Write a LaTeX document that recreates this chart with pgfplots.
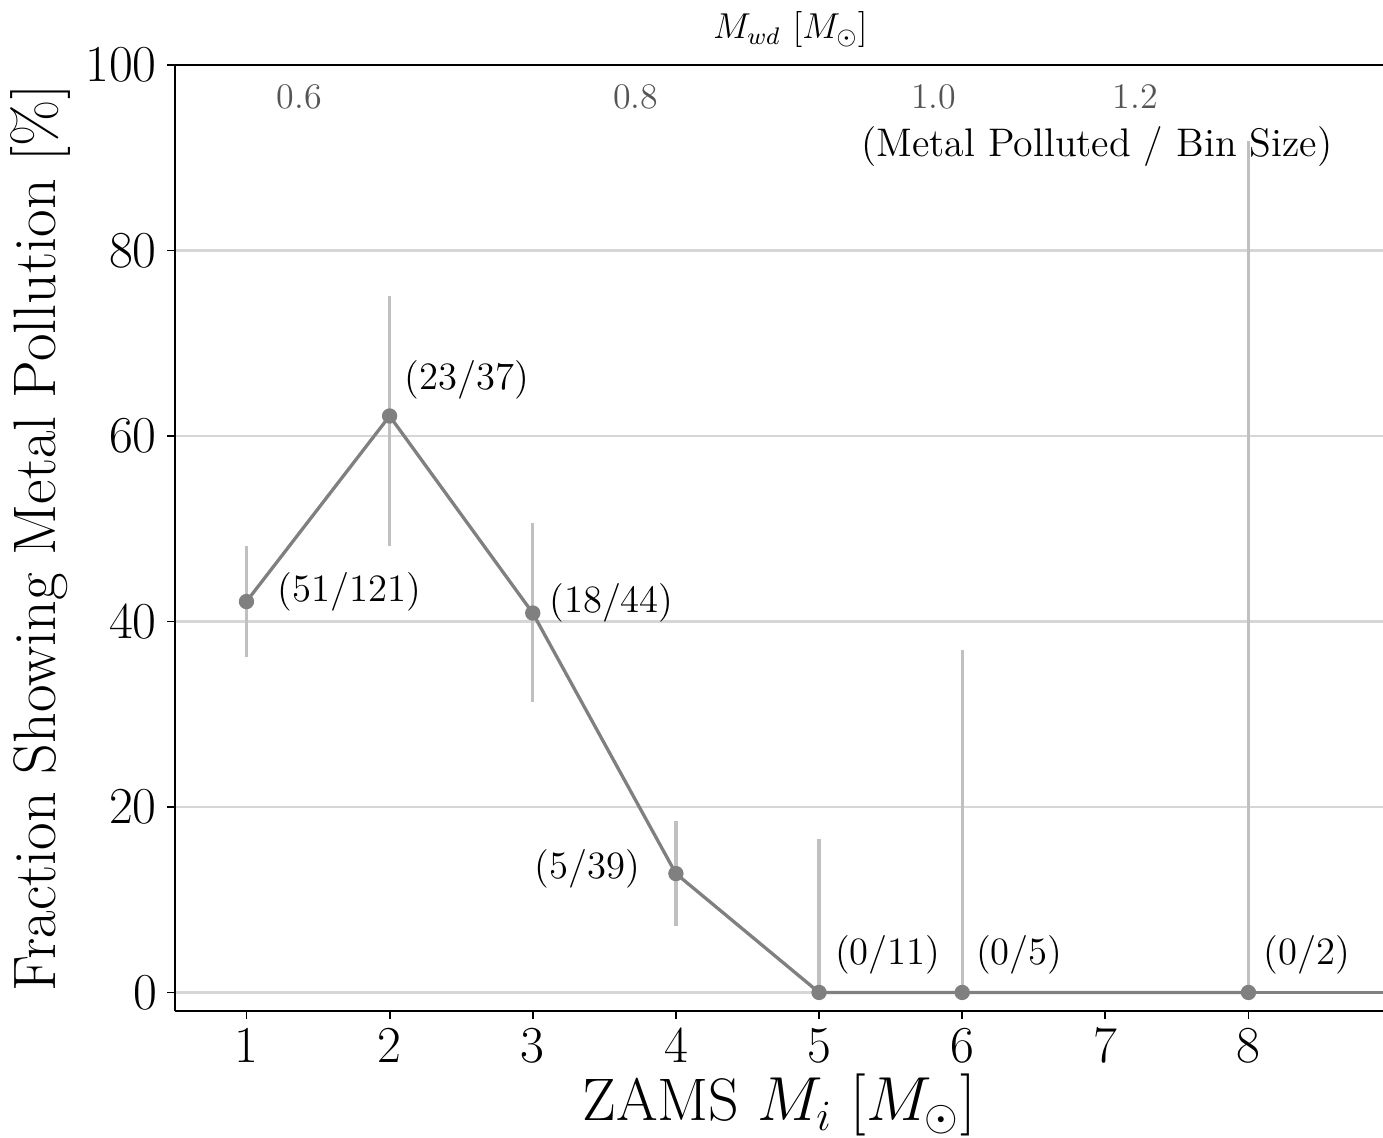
\documentclass[border=0pt]{standalone}
\usepackage{pgfplots}
\pgfplotsset{compat=1.18}
\usetikzlibrary{calc}
\definecolor{linegray}{HTML}{808080}
\definecolor{errgray}{HTML}{C0C0C0}
\definecolor{gridgray}{HTML}{D6D6D6}
\definecolor{toplab}{HTML}{555555}
\begin{document}
\begin{tikzpicture}
\begin{axis}[
  scale only axis, width=402.7pt, height=315.3pt,
  xmin=0.5, xmax=8.94, ymin=-2, ymax=100,
  axis x line*=bottom, axis y line*=left,
  axis line style={-, line width=0.7pt},
  xtick={1,...,8}, ytick={0,20,...,100},
  tick align=outside, major tick length=2.5pt,
  tick style={black, line width=0.6pt},
  ymajorgrids, grid style={gridgray, line width=0.8pt},
  tick label style={font=\LARGE},
  xlabel={ZAMS $M_i$ $[M_\odot]$},
  ylabel={Fraction Showing Metal Pollution [\%]},
  label style={font=\fontsize{20}{24}\selectfont},
  xlabel style={yshift=3pt},
  ylabel style={yshift=-2pt},
  clip mode=individual,
]
% error bars first, under the line
\addplot[draw=none, mark=none, forget plot,
  error bars/.cd, y dir=both, y explicit, error mark=none,
  error bar style={draw=errgray, line width=1.1pt}]
coordinates {
  (1,42.15) += (0,5.95) -= (0,5.95)
  (2,62.16) += (0,12.9) -= (0,14.0)
  (3,40.91) += (0,9.7) -= (0,9.6)
  (4,12.82) += (0,5.7) -= (0,5.7)
  (5,0) += (0,16.5) -= (0,0)
  (6,0) += (0,36.9) -= (0,0)
  (8,0) += (0,91.8) -= (0,0)
};
\addplot[linegray, line width=1.1pt, mark=*, mark size=2pt,
  mark options={fill=linegray, draw=linegray}]
coordinates {(1,42.15) (2,62.16) (3,40.91) (4,12.82) (5,0) (6,0) (8,0)};
\addplot[linegray, line width=1.1pt, mark=none, forget plot]
coordinates {(8,0) (9,0)};

\draw[black, line width=0.7pt] (rel axis cs:0,1) -- (rel axis cs:1,1);

\begin{scope}[every node/.style={font=\fontsize{12.9}{15}\selectfont}]
\node at (axis cs:1.72,43.2) {(51/121)};
\node at (axis cs:2.54,66.1) {(23/37)};
\node at (axis cs:3.55,42.0) {(18/44)};
\node at (axis cs:3.38,13.3) {(5/39)};
\node at (axis cs:5.48,4.1) {(0/11)};
\node at (axis cs:6.40,4.1) {(0/5)};
\node at (axis cs:8.41,4.1) {(0/2)};
\end{scope}
\node[font=\fontsize{13.3}{16}\selectfont] at (axis cs:6.94,91.2) {(Metal Polluted / Bin Size)};

\begin{scope}[every node/.style={font=\fontsize{12}{14}\selectfont, text=toplab}]
\node at (axis cs:1.37,96.6) {0.6};
\node at (axis cs:3.72,96.6) {0.8};
\node at (axis cs:5.80,96.6) {1.0};
\node at (axis cs:7.21,96.6) {1.2};
\end{scope}
\node[font=\fontsize{12}{14}\selectfont] at (axis cs:4.80,103.8) {$M_{wd}$ $[M_\odot]$};

\coordinate (ll) at (rel axis cs:0,0);
\coordinate (ur) at (rel axis cs:1,1);
\end{axis}
\pgfresetboundingbox
\path ($(ll)+(-58.3pt,-42pt)$) rectangle ($(ur)+(0pt,21.7pt)$);
\end{tikzpicture}
\end{document}
